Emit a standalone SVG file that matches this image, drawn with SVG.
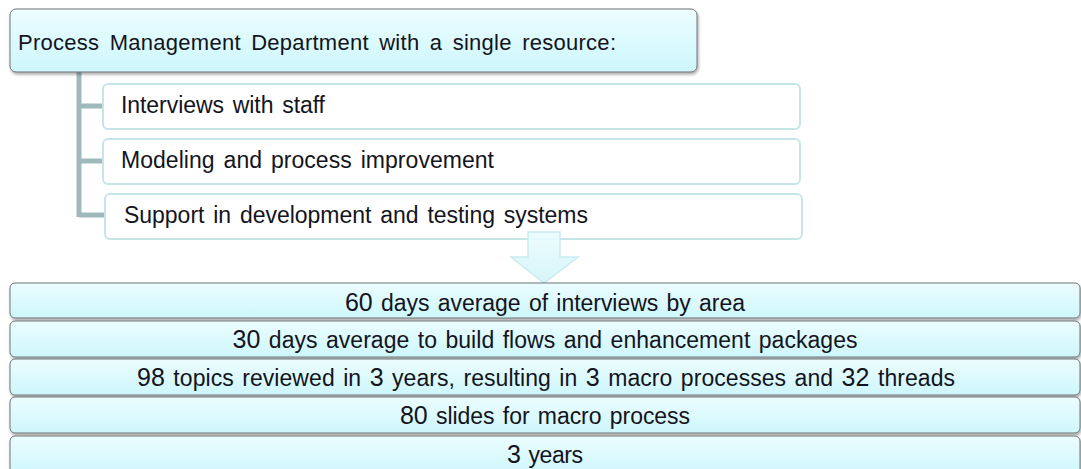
<svg xmlns="http://www.w3.org/2000/svg" width="1081" height="469" viewBox="0 0 1081 469">
  <defs>
    <linearGradient id="cyanFill" x1="0" y1="0" x2="0" y2="1">
      <stop offset="0" stop-color="#ecfdff"/>
      <stop offset="1" stop-color="#cdf7fc"/>
    </linearGradient>
    <linearGradient id="arrowFill" x1="0" y1="0" x2="0" y2="1">
      <stop offset="0" stop-color="#eafcfe"/>
      <stop offset="1" stop-color="#d2f4f8"/>
    </linearGradient>
    <filter id="shadow" x="-5%" y="-30%" width="110%" height="170%">
      <feDropShadow dx="1" dy="2" stdDeviation="1.5" flood-color="#000" flood-opacity="0.35"/>
    </filter>
  </defs>
  <style>
    .main { fill: url(#cyanFill); stroke: #6e7576; stroke-width: 1; filter: url(#shadow); }
    .child { fill: #ffffff; stroke: #c6e5e9; stroke-width: 2; }
    .t { font-family: "Liberation Sans", Arial, sans-serif; fill: #141420; }
    .top { font-size: 22px; word-spacing: 4px; }
    .body { font-size: 23px; word-spacing: 2.5px; }
    .row { font-size: 23px; text-anchor: middle; word-spacing: 2px; }
    .num { font-size: 25px; }
    .conn { stroke: #9db9bc; stroke-width: 5; fill: none; }
  </style>

  <g id="connectors">
    <path class="conn" d="M79 72 V217"/>
    <path class="conn" d="M79 106 H104"/>
    <path class="conn" d="M79 161 H104"/>
    <path class="conn" d="M79 215 H106"/>
  </g>

  <g id="node-top">
    <rect class="main" x="10" y="9" width="687" height="63" rx="6"/>
    <text class="t top" x="18" y="50" textLength="598" lengthAdjust="spacing">Process Management Department with a single resource:</text>
  </g>

  <g id="node-interviews">
    <rect class="child" x="103" y="84" width="697" height="45" rx="5"/>
    <text class="t body" x="121" y="113" textLength="204" lengthAdjust="spacing">Interviews with staff</text>
  </g>
  <g id="node-modeling">
    <rect class="child" x="103" y="139" width="697" height="45" rx="5"/>
    <text class="t body" x="121" y="168" textLength="373" lengthAdjust="spacing">Modeling and process improvement</text>
  </g>
  <g id="node-support">
    <rect class="child" x="105" y="194" width="697" height="45" rx="5"/>
    <text class="t body" x="124" y="223" textLength="464" lengthAdjust="spacing">Support in development and testing systems</text>
  </g>

  <g id="arrow">
    <path d="M528 232 H560 V257 H578 L544 283 L511 257 H528 Z" fill="url(#arrowFill)" fill-opacity="0.9" stroke="#c9ebef" stroke-width="1.5"/>
  </g>

  <g id="row-1">
    <rect class="main" x="10" y="283" width="1070" height="35" rx="5"/>
    <text class="t row" x="545" y="310.5" textLength="400" lengthAdjust="spacing"><tspan class="num">60</tspan> days average of interviews by area</text>
  </g>
  <g id="row-2">
    <rect class="main" x="10" y="321" width="1070" height="36" rx="5"/>
    <text class="t row" x="545" y="347.5" textLength="625" lengthAdjust="spacing"><tspan class="num">30</tspan> days average to build flows and enhancement packages</text>
  </g>
  <g id="row-3">
    <rect class="main" x="10" y="359" width="1070" height="36" rx="5"/>
    <text class="t row" x="546" y="386" textLength="818" lengthAdjust="spacing"><tspan class="num">98</tspan> topics reviewed in <tspan class="num">3</tspan> years, resulting in <tspan class="num">3</tspan> macro processes and <tspan class="num">32</tspan> threads</text>
  </g>
  <g id="row-4">
    <rect class="main" x="10" y="397" width="1070" height="36" rx="5"/>
    <text class="t row" x="545" y="424" textLength="290" lengthAdjust="spacing"><tspan class="num">80</tspan> slides for macro process</text>
  </g>
  <g id="row-5">
    <rect class="main" x="10" y="436" width="1070" height="38" rx="5"/>
    <text class="t row" x="545" y="463" textLength="76" lengthAdjust="spacing"><tspan class="num">3</tspan> years</text>
  </g>
</svg>
